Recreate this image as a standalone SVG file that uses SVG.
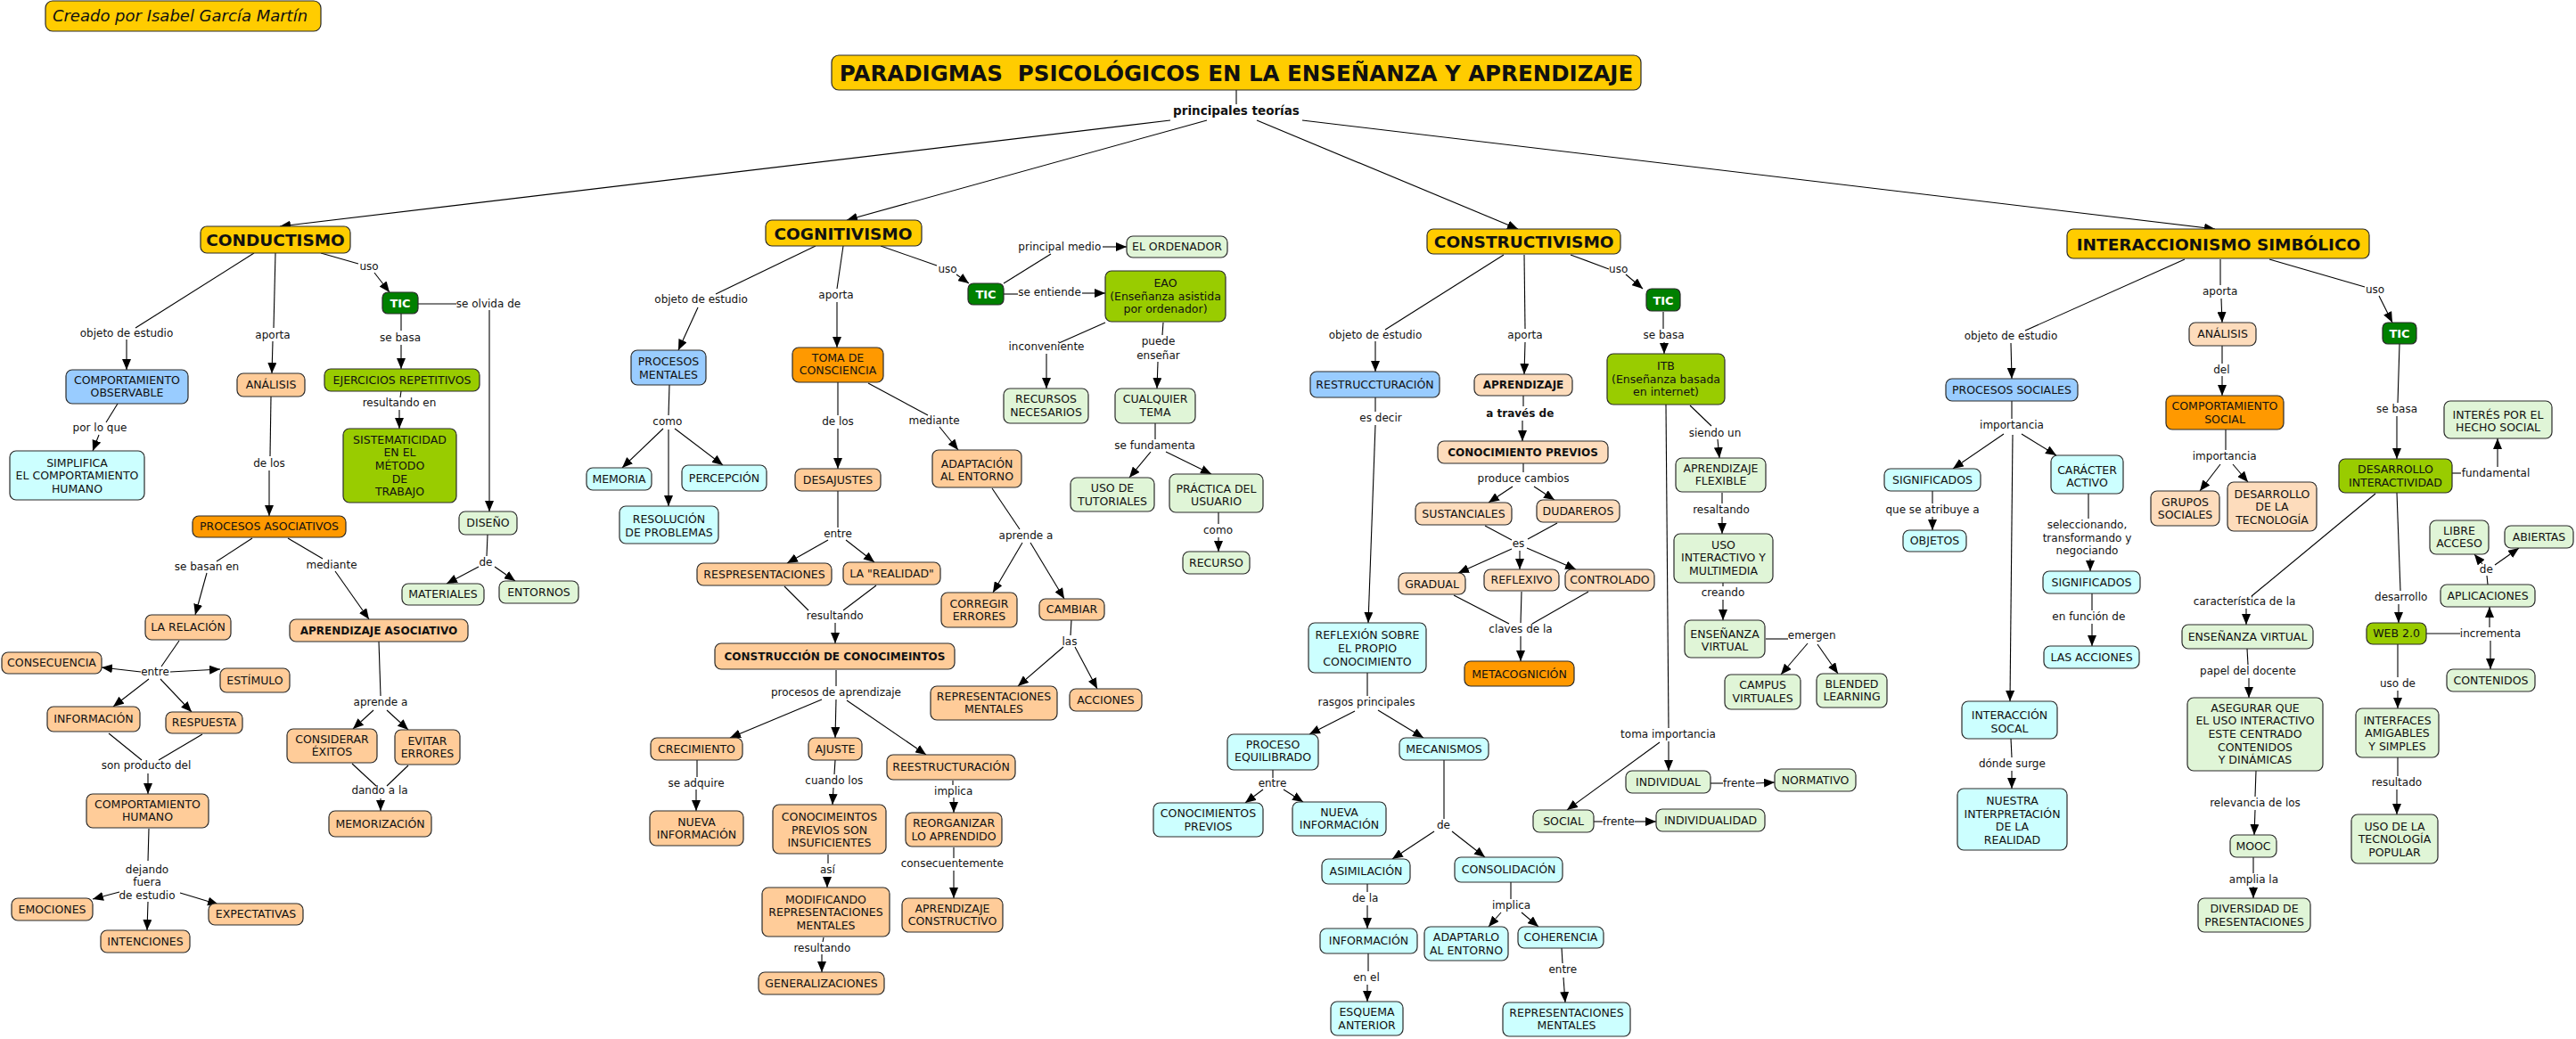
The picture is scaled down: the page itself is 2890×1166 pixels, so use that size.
<svg xmlns="http://www.w3.org/2000/svg" width="2890" height="1166" viewBox="0 0 2890 1166">
<defs>
<marker id="ah" markerUnits="userSpaceOnUse" markerWidth="12" markerHeight="10" refX="12" refY="5" orient="auto"><path d="M0,0 L12,5 L0,10 Z" fill="#000"/></marker>
<style>
text{font-family:"DejaVu Sans",Verdana,"Liberation Sans",sans-serif;fill:#111}
.b{stroke:#2a2a2a;stroke-width:1.2}
.gold{fill:#FFCC00}.tic{fill:#008000}.yg{fill:#99CC00}.lb{fill:#99CCFF}.cy{fill:#CCFFFF}
.pe{fill:#FFCC99}.pl{fill:#FDDCBC}.or{fill:#FF9900}.lg{fill:#E0F5D7}
.t{font-size:12.5px;text-anchor:middle}
.tb{font-size:12px;font-weight:bold;text-anchor:middle}
.h{font-size:18.5px;font-weight:bold;text-anchor:middle}
.ti{font-size:24.5px;font-weight:bold;text-anchor:middle}
.tt{font-size:13px;font-weight:bold;text-anchor:middle;fill:#fff}
.l{font-size:12px;text-anchor:middle}
.lbd{font-size:12px;font-weight:bold;text-anchor:middle}
#connectors line{stroke:#000;stroke-width:1.1;fill:none}
#connectors line.a{marker-end:url(#ah)}
</style>
</defs>
<rect width="2890" height="1166" fill="#fff"/>

<g id="connectors">
<line x1="1387" y1="101" x2="1387" y2="117"/>
<line class="a" x1="1313" y1="135" x2="314" y2="254"/>
<line class="a" x1="1354" y1="135" x2="950" y2="247"/>
<line class="a" x1="1410" y1="135" x2="1703" y2="257"/>
<line class="a" x1="1461" y1="135" x2="2485" y2="257"/>
<line x1="285" y1="284" x2="152" y2="368"/>
<line class="a" x1="142" y1="381" x2="142" y2="415"/>
<line x1="309" y1="284" x2="307" y2="368"/>
<line class="a" x1="306" y1="383" x2="305" y2="419"/>
<line x1="360" y1="284" x2="402" y2="296"/>
<line class="a" x1="420" y1="306" x2="437" y2="328"/>
<line x1="469" y1="341" x2="512" y2="341"/>
<line class="a" x1="549" y1="348" x2="549" y2="574"/>
<line x1="450" y1="352" x2="450" y2="371"/>
<line class="a" x1="450" y1="387" x2="450" y2="414"/>
<line x1="132" y1="453" x2="119" y2="474"/>
<line class="a" x1="111" y1="488" x2="104" y2="506"/>
<line x1="304" y1="445" x2="303" y2="512"/>
<line class="a" x1="302" y1="528" x2="302" y2="579"/>
<line x1="450" y1="439" x2="449" y2="446"/>
<line class="a" x1="448" y1="460" x2="448" y2="481"/>
<line x1="547" y1="600" x2="546" y2="624"/>
<line class="a" x1="537" y1="636" x2="501" y2="655"/>
<line class="a" x1="555" y1="636" x2="578" y2="652"/>
<line x1="283" y1="604" x2="243" y2="630"/>
<line class="a" x1="232" y1="643" x2="219" y2="690"/>
<line x1="323" y1="604" x2="362" y2="627"/>
<line class="a" x1="376" y1="641" x2="414" y2="695"/>
<line x1="201" y1="719" x2="181" y2="748"/>
<line class="a" x1="158" y1="754" x2="114" y2="749"/>
<line class="a" x1="191" y1="754" x2="247" y2="751"/>
<line class="a" x1="167" y1="762" x2="127" y2="793"/>
<line class="a" x1="180" y1="762" x2="215" y2="799"/>
<line x1="122" y1="823" x2="159" y2="853"/>
<line x1="227" y1="824" x2="178" y2="853"/>
<line class="a" x1="166" y1="868" x2="166" y2="891"/>
<line x1="167" y1="930" x2="166" y2="966"/>
<line class="a" x1="134" y1="1001" x2="104" y2="1009"/>
<line class="a" x1="166" y1="1012" x2="165" y2="1044"/>
<line class="a" x1="202" y1="1002" x2="245" y2="1015"/>
<line x1="425" y1="720" x2="427" y2="781"/>
<line class="a" x1="419" y1="797" x2="396" y2="818"/>
<line class="a" x1="434" y1="797" x2="458" y2="819"/>
<line x1="395" y1="857" x2="422" y2="882"/>
<line x1="458" y1="859" x2="434" y2="882"/>
<line class="a" x1="427" y1="896" x2="427" y2="910"/>
<line x1="915" y1="276" x2="803" y2="330"/>
<line class="a" x1="783" y1="345" x2="761" y2="393"/>
<line x1="946" y1="276" x2="939" y2="324"/>
<line class="a" x1="939" y1="339" x2="939" y2="390"/>
<line x1="988" y1="276" x2="1051" y2="298"/>
<line class="a" x1="1073" y1="308" x2="1087" y2="318"/>
<line x1="1126" y1="318" x2="1179" y2="285"/>
<line class="a" x1="1237" y1="277" x2="1264" y2="277"/>
<line x1="1126" y1="330" x2="1142" y2="330"/>
<line class="a" x1="1214" y1="329" x2="1240" y2="329"/>
<line x1="1240" y1="362" x2="1188" y2="385"/>
<line class="a" x1="1174" y1="397" x2="1174" y2="436"/>
<line x1="1305" y1="362" x2="1304" y2="376"/>
<line class="a" x1="1299" y1="406" x2="1298" y2="436"/>
<line x1="1296" y1="475" x2="1296" y2="493"/>
<line class="a" x1="1291" y1="507" x2="1267" y2="536"/>
<line class="a" x1="1308" y1="507" x2="1359" y2="532"/>
<line x1="1367" y1="575" x2="1367" y2="588"/>
<line class="a" x1="1367" y1="603" x2="1367" y2="619"/>
<line x1="751" y1="432" x2="750" y2="466"/>
<line class="a" x1="744" y1="481" x2="698" y2="525"/>
<line class="a" x1="757" y1="481" x2="811" y2="522"/>
<line class="a" x1="750" y1="482" x2="750" y2="568"/>
<line x1="940" y1="429" x2="940" y2="466"/>
<line class="a" x1="940" y1="481" x2="940" y2="526"/>
<line x1="974" y1="430" x2="1041" y2="466"/>
<line class="a" x1="1054" y1="479" x2="1075" y2="505"/>
<line x1="940" y1="551" x2="940" y2="592"/>
<line class="a" x1="929" y1="606" x2="883" y2="632"/>
<line class="a" x1="949" y1="606" x2="981" y2="631"/>
<line x1="880" y1="658" x2="907" y2="685"/>
<line x1="983" y1="657" x2="946" y2="685"/>
<line class="a" x1="937" y1="699" x2="937" y2="722"/>
<line x1="1113" y1="548" x2="1144" y2="594"/>
<line class="a" x1="1147" y1="609" x2="1114" y2="665"/>
<line class="a" x1="1156" y1="609" x2="1194" y2="672"/>
<line x1="1202" y1="696" x2="1201" y2="713"/>
<line class="a" x1="1193" y1="726" x2="1142" y2="770"/>
<line class="a" x1="1206" y1="726" x2="1231" y2="773"/>
<line x1="938" y1="752" x2="938" y2="770"/>
<line class="a" x1="922" y1="785" x2="819" y2="828"/>
<line class="a" x1="938" y1="785" x2="937" y2="828"/>
<line class="a" x1="950" y1="786" x2="1039" y2="847"/>
<line x1="782" y1="853" x2="782" y2="872"/>
<line class="a" x1="781" y1="886" x2="781" y2="910"/>
<line x1="937" y1="853" x2="936" y2="869"/>
<line class="a" x1="935" y1="884" x2="934" y2="903"/>
<line x1="929" y1="959" x2="929" y2="969"/>
<line class="a" x1="928" y1="984" x2="928" y2="996"/>
<line x1="924" y1="1052" x2="923" y2="1057"/>
<line class="a" x1="922" y1="1071" x2="922" y2="1091"/>
<line x1="1069" y1="876" x2="1069" y2="881"/>
<line class="a" x1="1070" y1="895" x2="1070" y2="912"/>
<line x1="1070" y1="951" x2="1070" y2="963"/>
<line class="a" x1="1070" y1="977" x2="1070" y2="1008"/>
<line x1="1687" y1="286" x2="1554" y2="370"/>
<line class="a" x1="1543" y1="383" x2="1543" y2="417"/>
<line x1="1710" y1="286" x2="1711" y2="369"/>
<line class="a" x1="1711" y1="384" x2="1710" y2="420"/>
<line x1="1762" y1="286" x2="1805" y2="302"/>
<line class="a" x1="1824" y1="308" x2="1843" y2="324"/>
<line x1="1866" y1="350" x2="1866" y2="369"/>
<line class="a" x1="1867" y1="384" x2="1867" y2="397"/>
<line x1="1543" y1="446" x2="1543" y2="462"/>
<line class="a" x1="1543" y1="477" x2="1535" y2="699"/>
<line x1="1709" y1="444" x2="1709" y2="456"/>
<line class="a" x1="1708" y1="472" x2="1708" y2="495"/>
<line x1="1709" y1="520" x2="1709" y2="530"/>
<line class="a" x1="1697" y1="546" x2="1670" y2="564"/>
<line class="a" x1="1721" y1="546" x2="1744" y2="561"/>
<line x1="1666" y1="590" x2="1696" y2="606"/>
<line x1="1747" y1="587" x2="1714" y2="605"/>
<line class="a" x1="1696" y1="616" x2="1636" y2="643"/>
<line class="a" x1="1705" y1="618" x2="1705" y2="639"/>
<line class="a" x1="1713" y1="615" x2="1768" y2="639"/>
<line x1="1631" y1="668" x2="1693" y2="700"/>
<line x1="1707" y1="664" x2="1706" y2="699"/>
<line x1="1782" y1="664" x2="1719" y2="700"/>
<line class="a" x1="1706" y1="714" x2="1706" y2="742"/>
<line x1="1896" y1="455" x2="1920" y2="478"/>
<line class="a" x1="1927" y1="493" x2="1929" y2="514"/>
<line x1="1932" y1="553" x2="1932" y2="565"/>
<line class="a" x1="1932" y1="580" x2="1932" y2="599"/>
<line x1="1933" y1="654" x2="1933" y2="658"/>
<line class="a" x1="1933" y1="673" x2="1933" y2="696"/>
<line x1="1981" y1="717" x2="2006" y2="717"/>
<line class="a" x1="2028" y1="722" x2="1998" y2="757"/>
<line class="a" x1="2039" y1="723" x2="2062" y2="756"/>
<line x1="1869" y1="454" x2="1872" y2="817"/>
<line class="a" x1="1872" y1="832" x2="1872" y2="865"/>
<line class="a" x1="1862" y1="833" x2="1758" y2="909"/>
<line x1="1919" y1="879" x2="1933" y2="879"/>
<line class="a" x1="1970" y1="879" x2="1991" y2="878"/>
<line x1="1788" y1="922" x2="1798" y2="922"/>
<line class="a" x1="1834" y1="922" x2="1858" y2="922"/>
<line x1="1534" y1="755" x2="1534" y2="781"/>
<line class="a" x1="1520" y1="798" x2="1469" y2="824"/>
<line class="a" x1="1546" y1="797" x2="1597" y2="828"/>
<line x1="1428" y1="864" x2="1428" y2="873"/>
<line class="a" x1="1417" y1="886" x2="1397" y2="901"/>
<line class="a" x1="1440" y1="886" x2="1462" y2="900"/>
<line x1="1620" y1="853" x2="1620" y2="919"/>
<line class="a" x1="1609" y1="933" x2="1562" y2="964"/>
<line class="a" x1="1629" y1="933" x2="1666" y2="962"/>
<line x1="1534" y1="992" x2="1534" y2="1001"/>
<line class="a" x1="1534" y1="1016" x2="1534" y2="1042"/>
<line x1="1535" y1="1070" x2="1535" y2="1090"/>
<line class="a" x1="1534" y1="1105" x2="1534" y2="1124"/>
<line x1="1695" y1="990" x2="1695" y2="1009"/>
<line class="a" x1="1684" y1="1024" x2="1670" y2="1040"/>
<line class="a" x1="1707" y1="1024" x2="1726" y2="1040"/>
<line x1="1752" y1="1064" x2="1753" y2="1081"/>
<line class="a" x1="1754" y1="1097" x2="1756" y2="1125"/>
<line x1="2451" y1="291" x2="2272" y2="371"/>
<line class="a" x1="2256" y1="385" x2="2257" y2="425"/>
<line x1="2491" y1="291" x2="2491" y2="320"/>
<line class="a" x1="2492" y1="335" x2="2493" y2="362"/>
<line x1="2546" y1="291" x2="2653" y2="322"/>
<line class="a" x1="2669" y1="332" x2="2684" y2="362"/>
<line x1="2257" y1="450" x2="2257" y2="470"/>
<line class="a" x1="2248" y1="487" x2="2191" y2="526"/>
<line class="a" x1="2268" y1="487" x2="2307" y2="511"/>
<line class="a" x1="2258" y1="488" x2="2255" y2="787"/>
<line x1="2168" y1="551" x2="2168" y2="565"/>
<line class="a" x1="2168" y1="580" x2="2168" y2="595"/>
<line x1="2343" y1="554" x2="2343" y2="582"/>
<line class="a" x1="2345" y1="627" x2="2345" y2="641"/>
<line x1="2347" y1="666" x2="2347" y2="685"/>
<line class="a" x1="2347" y1="700" x2="2347" y2="725"/>
<line x1="2256" y1="829" x2="2257" y2="850"/>
<line class="a" x1="2257" y1="865" x2="2257" y2="885"/>
<line x1="2493" y1="388" x2="2493" y2="408"/>
<line class="a" x1="2493" y1="422" x2="2493" y2="444"/>
<line x1="2497" y1="482" x2="2497" y2="505"/>
<line class="a" x1="2491" y1="521" x2="2468" y2="551"/>
<line class="a" x1="2505" y1="521" x2="2522" y2="541"/>
<line x1="2692" y1="386" x2="2690" y2="452"/>
<line class="a" x1="2689" y1="467" x2="2689" y2="515"/>
<line x1="2751" y1="531" x2="2761" y2="531"/>
<line class="a" x1="2802" y1="524" x2="2802" y2="492"/>
<line x1="2665" y1="554" x2="2526" y2="669"/>
<line class="a" x1="2520" y1="683" x2="2520" y2="701"/>
<line x1="2689" y1="553" x2="2693" y2="663"/>
<line class="a" x1="2691" y1="678" x2="2691" y2="699"/>
<line x1="2722" y1="711" x2="2760" y2="711"/>
<line class="a" x1="2793" y1="704" x2="2793" y2="681"/>
<line class="a" x1="2794" y1="719" x2="2794" y2="751"/>
<line x1="2791" y1="656" x2="2790" y2="646"/>
<line class="a" x1="2785" y1="633" x2="2776" y2="622"/>
<line class="a" x1="2799" y1="634" x2="2826" y2="615"/>
<line x1="2690" y1="723" x2="2690" y2="760"/>
<line class="a" x1="2690" y1="775" x2="2690" y2="795"/>
<line x1="2521" y1="728" x2="2522" y2="746"/>
<line class="a" x1="2523" y1="761" x2="2523" y2="783"/>
<line x1="2531" y1="865" x2="2530" y2="894"/>
<line class="a" x1="2530" y1="909" x2="2529" y2="937"/>
<line x1="2528" y1="962" x2="2528" y2="980"/>
<line class="a" x1="2528" y1="995" x2="2528" y2="1008"/>
<line x1="2690" y1="850" x2="2690" y2="871"/>
<line class="a" x1="2689" y1="886" x2="2689" y2="914"/>
</g>

<g id="labels">
<text class="lbd" x="1387" y="129" style="font-size:13.5px">principales teorías</text>
<text class="l" x="142" y="378">objeto de estudio</text>
<text class="l" x="306" y="380">aporta</text>
<text class="l" x="414" y="303">uso</text>
<text class="l" x="548" y="345">se olvida de</text>
<text class="l" x="449" y="383">se basa</text>
<text class="l" x="112" y="484">por lo que</text>
<text class="l" x="302" y="524">de los</text>
<text class="l" x="448" y="456">resultando en</text>
<text class="l" x="545" y="635">de</text>
<text class="l" x="232" y="640">se basan en</text>
<text class="l" x="372" y="638">mediante</text>
<text class="l" x="174" y="758">entre</text>
<text class="l" x="164" y="863">son producto del</text>
<text class="l" x="165"><tspan x="165" y="980">dejando</tspan><tspan x="165" y="994.3">fuera</tspan><tspan x="165" y="1009">de estudio</tspan></text>
<text class="l" x="427" y="791.7">aprende a</text>
<text class="l" x="426" y="891">dando a la</text>
<text class="l" x="786.6" y="339.7">objeto de estudio</text>
<text class="l" x="938" y="335">aporta</text>
<text class="l" x="1063" y="306">uso</text>
<text class="l" x="1188.8" y="280.7">principal medio</text>
<text class="l" x="1177.6" y="332">se entiende</text>
<text class="l" x="1174" y="393">inconveniente</text>
<text class="l" x="1299.5"><tspan x="1299.5" y="387">puede</tspan><tspan x="1299.5" y="402.7">enseñar</tspan></text>
<text class="l" x="748.8" y="477">como</text>
<text class="l" x="940" y="477">de los</text>
<text class="l" x="1048" y="476">mediante</text>
<text class="l" x="940" y="603">entre</text>
<text class="l" x="936.7" y="694.7">resultando</text>
<text class="l" x="1151" y="604.7">aprende a</text>
<text class="l" x="1200" y="723.7">las</text>
<text class="l" x="938" y="781">procesos de aprendizaje</text>
<text class="l" x="1295.5" y="503.7">se fundamenta</text>
<text class="l" x="1366.5" y="599">como</text>
<text class="l" x="781" y="882.7">se adquire</text>
<text class="l" x="935.8" y="880">cuando los</text>
<text class="l" x="928.4" y="980">así</text>
<text class="l" x="922.4" y="1068">resultando</text>
<text class="l" x="1069.7" y="891.7">implica</text>
<text class="l" x="1068.3" y="973.3">consecuentemente</text>
<text class="l" x="1543" y="379.7">objeto de estudio</text>
<text class="l" x="1711" y="379.7">aporta</text>
<text class="l" x="1815.7" y="305.5">uso</text>
<text class="l" x="1866.5" y="379.7">se basa</text>
<text class="l" x="1549" y="473">es decir</text>
<text class="lbd" x="1705.3" y="468">a través de</text>
<text class="l" x="1709" y="541">produce cambios</text>
<text class="l" x="1703.5" y="614">es</text>
<text class="l" x="1706" y="710.3">claves de la</text>
<text class="l" x="1924" y="490.3">siendo un</text>
<text class="l" x="1931" y="576">resaltando</text>
<text class="l" x="1933" y="669">creando</text>
<text class="l" x="2032.7" y="717">emergen</text>
<text class="l" x="1533" y="792.3">rasgos principales</text>
<text class="l" x="1427.5" y="883.3">entre</text>
<text class="l" x="1619.5" y="930">de</text>
<text class="l" x="1531.7" y="1011.7">de la</text>
<text class="l" x="1533" y="1101">en el</text>
<text class="l" x="1695.6" y="1020">implica</text>
<text class="l" x="1753.3" y="1092.3">entre</text>
<text class="l" x="1871.5" y="827.7">toma importancia</text>
<text class="l" x="1951" y="882.7">frente</text>
<text class="l" x="1816" y="925.7">frente</text>
<text class="l" x="2256" y="380.7">objeto de estudio</text>
<text class="l" x="2490.6" y="331.3">aporta</text>
<text class="l" x="2664.6" y="329">uso</text>
<text class="l" x="2492.4" y="418.7">del</text>
<text class="l" x="2495.7" y="516">importancia</text>
<text class="l" x="2257" y="481.3">importancia</text>
<text class="l" x="2168" y="576">que se atribuye a</text>
<text class="l" x="2341.5"><tspan x="2341.5" y="593">seleccionando,</tspan><tspan x="2341.5" y="607.7">transformando y</tspan><tspan x="2341.5" y="622">negociando</tspan></text>
<text class="l" x="2343.3" y="696.3">en función de</text>
<text class="l" x="2257.4" y="860.7">dónde surge</text>
<text class="l" x="2689" y="463">se basa</text>
<text class="l" x="2800" y="535.3">fundamental</text>
<text class="l" x="2518" y="679.3">característica de la</text>
<text class="l" x="2522" y="757">papel del docente</text>
<text class="l" x="2530" y="905">relevancia de los</text>
<text class="l" x="2528.4" y="991">amplia la</text>
<text class="l" x="2693.7" y="673.7">desarrollo</text>
<text class="l" x="2794" y="715.3">incrementa</text>
<text class="l" x="2789.3" y="642.7">de</text>
<text class="l" x="2690" y="771.3">uso de</text>
<text class="l" x="2689" y="881.7">resultado</text>
</g>

<g id="n-creado"><rect class="b gold" x="51" y="1" width="309" height="34" rx="8"/><text x="202" y="24" style="font-size:18px;font-style:italic;text-anchor:middle">Creado por Isabel García Martín</text></g>
<g id="n-titulo"><rect class="b gold" x="933" y="62" width="908" height="39" rx="8"/><text class="ti" x="1387" y="91" xml:space="preserve">PARADIGMAS  PSICOLÓGICOS EN LA ENSEÑANZA Y APRENDIZAJE</text></g>

<g id="n-conductismo"><rect class="b gold" x="225" y="254" width="168" height="30" rx="7"/><text class="h" x="309" y="276">CONDUCTISMO</text></g>
<g id="n-cognitivismo"><rect class="b gold" x="859" y="247" width="175" height="29" rx="7"/><text class="h" x="946" y="268.5">COGNITIVISMO</text></g>
<g id="n-constructivismo"><rect class="b gold" x="1601" y="257" width="217" height="28" rx="7"/><text class="h" x="1709.7" y="277.5">CONSTRUCTIVISMO</text></g>
<g id="n-interaccionismo"><rect class="b gold" x="2319" y="257" width="339" height="33" rx="7"/><text class="h" x="2489" y="281">INTERACCIONISMO SIMBÓLICO</text></g>

<g id="n-tic1"><rect class="b tic" x="429" y="328" width="40" height="24" rx="6"/><text class="tt" x="449" y="345">TIC</text></g>
<g id="n-tic2"><rect class="b tic" x="1086" y="318" width="40" height="24" rx="6"/><text class="tt" x="1106" y="335">TIC</text></g>
<g id="n-tic3"><rect class="b tic" x="1847" y="324" width="38" height="25" rx="6"/><text class="tt" x="1866" y="341.5">TIC</text></g>
<g id="n-tic4"><rect class="b tic" x="2673" y="362" width="38" height="24" rx="6"/><text class="tt" x="2692" y="378.5">TIC</text></g>

<g id="n-comp-observable"><rect class="b lb" x="74" y="415" width="137" height="38" rx="7"/><text class="t"><tspan x="142.5" y="430.6">COMPORTAMIENTO</tspan><tspan x="142.5" y="445.3">OBSERVABLE</tspan></text></g>
<g id="n-simplifica"><rect class="b cy" x="11" y="506" width="151" height="55" rx="7"/><text class="t"><tspan x="86.5" y="524">SIMPLIFICA</tspan><tspan x="86.5" y="538.3">EL COMPORTAMIENTO</tspan><tspan x="86.5" y="553">HUMANO</tspan></text></g>
<g id="n-analisis1"><rect class="b pe" x="266" y="419" width="76" height="26" rx="7"/><text class="t" x="304" y="436.3">ANÁLISIS</text></g>
<g id="n-ejercicios"><rect class="b yg" x="364" y="414" width="174" height="25" rx="7"/><text class="t" x="451" y="430.5">EJERCICIOS REPETITIVOS</text></g>
<g id="n-sistematicidad"><rect class="b yg" x="385" y="481" width="127" height="83" rx="7"/><text class="t"><tspan x="448.5" y="498">SISTEMATICIDAD</tspan><tspan x="448.5" y="512.3">EN EL</tspan><tspan x="448.5" y="527">MÉTODO</tspan><tspan x="448.5" y="541.6">DE</tspan><tspan x="448.5" y="556">TRABAJO</tspan></text></g>
<g id="n-diseno"><rect class="b lg" x="515" y="574" width="65" height="26" rx="7"/><text class="t" x="547.5" y="591.3">DISEÑO</text></g>
<g id="n-materiales"><rect class="b lg" x="451" y="655" width="92" height="24" rx="7"/><text class="t" x="497" y="671.3">MATERIALES</text></g>
<g id="n-entornos"><rect class="b lg" x="560" y="652" width="89" height="25" rx="7"/><text class="t" x="604.5" y="669">ENTORNOS</text></g>
<g id="n-procesos-asoc"><rect class="b or" x="216" y="579" width="172" height="24" rx="7"/><text class="t" x="302" y="595.3">PROCESOS ASOCIATIVOS</text></g>
<g id="n-la-relacion"><rect class="b pe" x="163" y="690" width="96" height="28" rx="7"/><text class="t" x="211" y="708.3">LA RELACIÓN</text></g>
<g id="n-aprendizaje-asoc"><rect class="b pe" x="325" y="695" width="200" height="25" rx="7"/><text class="tb" x="425" y="711.5">APRENDIZAJE ASOCIATIVO</text></g>
<g id="n-consecuencia"><rect class="b pe" x="2" y="732" width="112" height="24" rx="7"/><text class="t" x="58" y="748.3">CONSECUENCIA</text></g>
<g id="n-estimulo"><rect class="b pe" x="247" y="750" width="78" height="27" rx="7"/><text class="t" x="286" y="767.8">ESTÍMULO</text></g>
<g id="n-informacion1"><rect class="b pe" x="53" y="793" width="104" height="28" rx="7"/><text class="t" x="105" y="811.3">INFORMACIÓN</text></g>
<g id="n-respuesta"><rect class="b pe" x="186" y="799" width="86" height="24" rx="7"/><text class="t" x="229" y="815.3">RESPUESTA</text></g>
<g id="n-comp-humano"><rect class="b pe" x="97" y="891" width="137" height="38" rx="7"/><text class="t"><tspan x="165.5" y="907">COMPORTAMIENTO</tspan><tspan x="165.5" y="921.3">HUMANO</tspan></text></g>
<g id="n-emociones"><rect class="b pe" x="13" y="1008" width="91" height="25" rx="7"/><text class="t" x="58.5" y="1024.8">EMOCIONES</text></g>
<g id="n-intenciones"><rect class="b pe" x="113" y="1044" width="100" height="25" rx="7"/><text class="t" x="163" y="1060.8">INTENCIONES</text></g>
<g id="n-expectativas"><rect class="b pe" x="234" y="1014" width="106" height="24" rx="7"/><text class="t" x="287" y="1030.3">EXPECTATIVAS</text></g>
<g id="n-considerar"><rect class="b pe" x="322" y="818" width="101" height="38" rx="7"/><text class="t"><tspan x="372.5" y="833.6">CONSIDERAR</tspan><tspan x="372.5" y="848">ÉXITOS</tspan></text></g>
<g id="n-evitar"><rect class="b pe" x="443" y="819" width="73" height="39" rx="7"/><text class="t"><tspan x="479.5" y="836">EVITAR</tspan><tspan x="479.5" y="850.3">ERRORES</tspan></text></g>
<g id="n-memorizacion"><rect class="b pe" x="369" y="910" width="115" height="29" rx="7"/><text class="t" x="426.5" y="929">MEMORIZACIÓN</text></g>

<g id="n-procesos-mentales"><rect class="b lb" x="708" y="393" width="84" height="39" rx="7"/><text class="t"><tspan x="750" y="409.6">PROCESOS</tspan><tspan x="750" y="424.6">MENTALES</tspan></text></g>
<g id="n-memoria"><rect class="b cy" x="658" y="525" width="73" height="25" rx="7"/><text class="t" x="694.5" y="541.8">MEMORIA</text></g>
<g id="n-percepcion"><rect class="b cy" x="765" y="522" width="95" height="29" rx="7"/><text class="t" x="812.5" y="541">PERCEPCIÓN</text></g>
<g id="n-resolucion"><rect class="b cy" x="695" y="568" width="111" height="42" rx="7"/><text class="t"><tspan x="750.5" y="587.3">RESOLUCIÓN</tspan><tspan x="750.5" y="602.3">DE PROBLEMAS</tspan></text></g>
<g id="n-toma"><rect class="b or" x="889" y="390" width="102" height="39" rx="7"/><text class="t"><tspan x="940" y="405.6">TOMA DE</tspan><tspan x="940" y="420.3">CONSCIENCIA</tspan></text></g>
<g id="n-desajustes"><rect class="b pe" x="892" y="526" width="96" height="25" rx="7"/><text class="t" x="940" y="542.5">DESAJUSTES</text></g>
<g id="n-adaptacion"><rect class="b pe" x="1046" y="505" width="100" height="42" rx="7"/><text class="t"><tspan x="1096" y="525">ADAPTACIÓN</tspan><tspan x="1096" y="539.3">AL ENTORNO</tspan></text></g>
<g id="n-respresentaciones"><rect class="b pe" x="782" y="632" width="151" height="25" rx="7"/><text class="t" x="857.5" y="649">RESPRESENTACIONES</text></g>
<g id="n-realidad"><rect class="b pe" x="946" y="631" width="109" height="25" rx="7"/><text class="t" x="1000.5" y="648">LA "REALIDAD"</text></g>
<g id="n-construccion"><rect class="b pe" x="802" y="722" width="269" height="29" rx="7"/><text class="tb" x="936.5" y="741">CONSTRUCCIÓN DE CONOCIMEINTOS</text></g>
<g id="n-corregir"><rect class="b pe" x="1056" y="665" width="85" height="39" rx="7"/><text class="t"><tspan x="1098.5" y="681.6">CORREGIR</tspan><tspan x="1098.5" y="696.3">ERRORES</tspan></text></g>
<g id="n-cambiar"><rect class="b pe" x="1166" y="672" width="73" height="24" rx="7"/><text class="t" x="1202.5" y="688.3">CAMBIAR</text></g>
<g id="n-repr-mentales1"><rect class="b pe" x="1044" y="770" width="142" height="38" rx="7"/><text class="t"><tspan x="1115" y="786">REPRESENTACIONES</tspan><tspan x="1115" y="800.3">MENTALES</tspan></text></g>
<g id="n-acciones"><rect class="b pe" x="1200" y="773" width="81" height="25" rx="7"/><text class="t" x="1240.5" y="789.8">ACCIONES</text></g>
<g id="n-crecimiento"><rect class="b pe" x="730" y="828" width="103" height="25" rx="7"/><text class="t" x="781.5" y="845">CRECIMIENTO</text></g>
<g id="n-ajuste"><rect class="b pe" x="907" y="828" width="60" height="25" rx="7"/><text class="t" x="937" y="845">AJUSTE</text></g>
<g id="n-reestructuracion"><rect class="b pe" x="995" y="847" width="144" height="28" rx="7"/><text class="t" x="1067" y="865.3">REESTRUCTURACIÓN</text></g>
<g id="n-nueva-info1"><rect class="b pe" x="729" y="910" width="105" height="39" rx="7"/><text class="t"><tspan x="781.5" y="927">NUEVA</tspan><tspan x="781.5" y="941.3">INFORMACIÓN</tspan></text></g>
<g id="n-conocimeintos"><rect class="b pe" x="867" y="903" width="127" height="55" rx="7"/><text class="t"><tspan x="930.5" y="921">CONOCIMEINTOS</tspan><tspan x="930.5" y="935.6">PREVIOS SON</tspan><tspan x="930.5" y="950.3">INSUFICIENTES</tspan></text></g>
<g id="n-modificando"><rect class="b pe" x="855" y="996" width="143" height="55" rx="7"/><text class="t"><tspan x="926.5" y="1013.6">MODIFICANDO</tspan><tspan x="926.5" y="1028.3">REPRESENTACIONES</tspan><tspan x="926.5" y="1043">MENTALES</tspan></text></g>
<g id="n-generalizaciones"><rect class="b pe" x="851" y="1091" width="141" height="25" rx="7"/><text class="t" x="921.5" y="1108">GENERALIZACIONES</text></g>
<g id="n-reorganizar"><rect class="b pe" x="1016" y="912" width="108" height="38" rx="7"/><text class="t"><tspan x="1070" y="928">REORGANIZAR</tspan><tspan x="1070" y="942.6">LO APRENDIDO</tspan></text></g>
<g id="n-aprendizaje-constructivo"><rect class="b pe" x="1012" y="1008" width="113" height="38" rx="7"/><text class="t"><tspan x="1068.5" y="1024">APRENDIZAJE</tspan><tspan x="1068.5" y="1038.3">CONSTRUCTIVO</tspan></text></g>
<g id="n-ordenador"><rect class="b lg" x="1264" y="265" width="113" height="24" rx="7"/><text class="t" x="1320.5" y="281.3">EL ORDENADOR</text></g>
<g id="n-eao"><rect class="b yg" x="1240" y="304" width="135" height="57" rx="7"/><text class="t"><tspan x="1307.5" y="322">EAO</tspan><tspan x="1307.5" y="336.6">(Enseñanza asistida</tspan><tspan x="1307.5" y="351">por ordenador)</tspan></text></g>
<g id="n-recursos"><rect class="b lg" x="1126" y="436" width="95" height="39" rx="7"/><text class="t"><tspan x="1173.5" y="452.3">RECURSOS</tspan><tspan x="1173.5" y="466.6">NECESARIOS</tspan></text></g>
<g id="n-cualquier"><rect class="b lg" x="1251" y="436" width="90" height="39" rx="7"/><text class="t"><tspan x="1296" y="452.3">CUALQUIER</tspan><tspan x="1296" y="466.6">TEMA</tspan></text></g>
<g id="n-tutoriales"><rect class="b lg" x="1201" y="536" width="94" height="38" rx="7"/><text class="t"><tspan x="1248" y="552.3">USO DE</tspan><tspan x="1248" y="566.6">TUTORIALES</tspan></text></g>
<g id="n-practica"><rect class="b lg" x="1312" y="532" width="105" height="43" rx="7"/><text class="t"><tspan x="1364.5" y="553">PRÁCTICA DEL</tspan><tspan x="1364.5" y="567.3">USUARIO</tspan></text></g>
<g id="n-recurso"><rect class="b lg" x="1327" y="619" width="75" height="25" rx="7"/><text class="t" x="1364.5" y="635.8">RECURSO</text></g>

<g id="n-restrucc"><rect class="b lb" x="1470" y="417" width="145" height="29" rx="7"/><text class="t" x="1542.5" y="436">RESTRUCCTURACIÓN</text></g>
<g id="n-aprendizaje"><rect class="b pl" x="1654" y="420" width="110" height="24" rx="7"/><text class="tb" x="1709" y="436.3">APRENDIZAJE</text></g>
<g id="n-itb"><rect class="b yg" x="1803" y="397" width="132" height="57" rx="7"/><text class="t"><tspan x="1869" y="415">ITB</tspan><tspan x="1869" y="429.6">(Enseñanza basada</tspan><tspan x="1869" y="444">en internet)</tspan></text></g>
<g id="n-conoc-previos1"><rect class="b pl" x="1613" y="495" width="191" height="25" rx="7"/><text class="tb" x="1708.5" y="511.5">CONOCIMIENTO PREVIOS</text></g>
<g id="n-sustanciales"><rect class="b pl" x="1588" y="564" width="108" height="25" rx="7"/><text class="t" x="1642" y="580.5">SUSTANCIALES</text></g>
<g id="n-dudareros"><rect class="b pl" x="1724" y="561" width="93" height="25" rx="7"/><text class="t" x="1770.5" y="578">DUDAREROS</text></g>
<g id="n-gradual"><rect class="b pl" x="1569" y="643" width="75" height="24" rx="7"/><text class="t" x="1606.5" y="659.5">GRADUAL</text></g>
<g id="n-reflexivo"><rect class="b pl" x="1665" y="639" width="84" height="24" rx="7"/><text class="t" x="1707" y="655.3">REFLEXIVO</text></g>
<g id="n-controlado"><rect class="b pl" x="1756" y="639" width="100" height="24" rx="7"/><text class="t" x="1806" y="655.3">CONTROLADO</text></g>
<g id="n-metacognicion"><rect class="b or" x="1643" y="742" width="123" height="28" rx="7"/><text class="t" x="1704.5" y="760.5">METACOGNICIÓN</text></g>
<g id="n-reflexion"><rect class="b cy" x="1468" y="699" width="132" height="56" rx="7"/><text class="t"><tspan x="1534" y="717.3">REFLEXIÓN SOBRE</tspan><tspan x="1534" y="732.3">EL PROPIO</tspan><tspan x="1534" y="746.6">CONOCIMIENTO</tspan></text></g>
<g id="n-proceso-eq"><rect class="b cy" x="1377" y="824" width="102" height="40" rx="7"/><text class="t"><tspan x="1428" y="840.3">PROCESO</tspan><tspan x="1428" y="854.3">EQUILIBRADO</tspan></text></g>
<g id="n-mecanismos"><rect class="b cy" x="1570" y="828" width="100" height="25" rx="7"/><text class="t" x="1620" y="845">MECANISMOS</text></g>
<g id="n-conoc-previos2"><rect class="b cy" x="1294" y="901" width="123" height="38" rx="7"/><text class="t"><tspan x="1355.5" y="917">CONOCIMIENTOS</tspan><tspan x="1355.5" y="931.6">PREVIOS</tspan></text></g>
<g id="n-nueva-info2"><rect class="b cy" x="1450" y="900" width="105" height="38" rx="7"/><text class="t"><tspan x="1502.5" y="916">NUEVA</tspan><tspan x="1502.5" y="930.3">INFORMACIÓN</tspan></text></g>
<g id="n-asimilacion"><rect class="b cy" x="1483" y="964" width="99" height="28" rx="7"/><text class="t" x="1532.5" y="982">ASIMILACIÓN</text></g>
<g id="n-consolidacion"><rect class="b cy" x="1632" y="962" width="121" height="28" rx="7"/><text class="t" x="1692.5" y="980">CONSOLIDACIÓN</text></g>
<g id="n-informacion2"><rect class="b cy" x="1481" y="1042" width="109" height="28" rx="7"/><text class="t" x="1535.5" y="1060.3">INFORMACIÓN</text></g>
<g id="n-esquema"><rect class="b cy" x="1493" y="1124" width="81" height="38" rx="7"/><text class="t"><tspan x="1533.5" y="1140.3">ESQUEMA</tspan><tspan x="1533.5" y="1154.6">ANTERIOR</tspan></text></g>
<g id="n-adaptarlo"><rect class="b cy" x="1598" y="1040" width="94" height="38" rx="7"/><text class="t"><tspan x="1645" y="1056.3">ADAPTARLO</tspan><tspan x="1645" y="1070.6">AL ENTORNO</tspan></text></g>
<g id="n-coherencia"><rect class="b cy" x="1703" y="1040" width="96" height="24" rx="7"/><text class="t" x="1751" y="1056.3">COHERENCIA</text></g>
<g id="n-repr-mentales2"><rect class="b cy" x="1686" y="1125" width="143" height="38" rx="7"/><text class="t"><tspan x="1757.5" y="1141">REPRESENTACIONES</tspan><tspan x="1757.5" y="1155.3">MENTALES</tspan></text></g>
<g id="n-aprendizaje-flexible"><rect class="b lg" x="1880" y="514" width="101" height="38" rx="7"/><text class="t"><tspan x="1930.5" y="529.6">APRENDIZAJE</tspan><tspan x="1930.5" y="544.3">FLEXIBLE</tspan></text></g>
<g id="n-uso-interactivo"><rect class="b lg" x="1878" y="599" width="111" height="55" rx="7"/><text class="t"><tspan x="1933.5" y="615.6">USO</tspan><tspan x="1933.5" y="630.3">INTERACTIVO Y</tspan><tspan x="1933.5" y="645">MULTIMEDIA</tspan></text></g>
<g id="n-ens-virtual1"><rect class="b lg" x="1890" y="696" width="90" height="42" rx="7"/><text class="t"><tspan x="1935" y="715.6">ENSEÑANZA</tspan><tspan x="1935" y="730">VIRTUAL</tspan></text></g>
<g id="n-campus"><rect class="b lg" x="1935" y="757" width="85" height="39" rx="7"/><text class="t"><tspan x="1977.5" y="773.3">CAMPUS</tspan><tspan x="1977.5" y="787.6">VIRTUALES</tspan></text></g>
<g id="n-blended"><rect class="b lg" x="2038" y="756" width="79" height="38" rx="7"/><text class="t"><tspan x="2077.5" y="771.6">BLENDED</tspan><tspan x="2077.5" y="786">LEARNING</tspan></text></g>
<g id="n-individual"><rect class="b lg" x="1824" y="865" width="95" height="25" rx="7"/><text class="t" x="1871.5" y="882">INDIVIDUAL</text></g>
<g id="n-normativo"><rect class="b lg" x="1991" y="863" width="91" height="25" rx="7"/><text class="t" x="2036.5" y="880">NORMATIVO</text></g>
<g id="n-social"><rect class="b lg" x="1720" y="909" width="68" height="25" rx="7"/><text class="t" x="1754" y="926">SOCIAL</text></g>
<g id="n-individualidad"><rect class="b lg" x="1858" y="908" width="122" height="25" rx="7"/><text class="t" x="1919" y="924.8">INDIVIDUALIDAD</text></g>

<g id="n-procesos-sociales"><rect class="b lb" x="2183" y="425" width="148" height="25" rx="7"/><text class="t" x="2257" y="441.5">PROCESOS SOCIALES</text></g>
<g id="n-analisis2"><rect class="b pl" x="2456" y="362" width="75" height="26" rx="7"/><text class="t" x="2493.5" y="379.3">ANÁLISIS</text></g>
<g id="n-comp-social"><rect class="b or" x="2430" y="444" width="132" height="38" rx="7"/><text class="t"><tspan x="2496" y="460">COMPORTAMIENTO</tspan><tspan x="2496" y="474.6">SOCIAL</tspan></text></g>
<g id="n-grupos"><rect class="b pl" x="2413" y="551" width="77" height="39" rx="7"/><text class="t"><tspan x="2451.5" y="568">GRUPOS</tspan><tspan x="2451.5" y="582.3">SOCIALES</tspan></text></g>
<g id="n-desarrollo-tec"><rect class="b pl" x="2499" y="541" width="100" height="55" rx="7"/><text class="t"><tspan x="2549" y="558.6">DESARROLLO</tspan><tspan x="2549" y="573.3">DE LA</tspan><tspan x="2549" y="587.6">TECNOLOGÍA</tspan></text></g>
<g id="n-significados1"><rect class="b cy" x="2114" y="526" width="108" height="25" rx="7"/><text class="t" x="2168" y="542.8">SIGNIFICADOS</text></g>
<g id="n-objetos"><rect class="b cy" x="2135" y="595" width="71" height="24" rx="7"/><text class="t" x="2170.5" y="611.3">OBJETOS</text></g>
<g id="n-caracter"><rect class="b cy" x="2301" y="511" width="81" height="43" rx="7"/><text class="t"><tspan x="2341.5" y="531.6">CARÁCTER</tspan><tspan x="2341.5" y="546.3">ACTIVO</tspan></text></g>
<g id="n-significados2"><rect class="b cy" x="2292" y="641" width="109" height="25" rx="7"/><text class="t" x="2346.5" y="658">SIGNIFICADOS</text></g>
<g id="n-las-acciones"><rect class="b cy" x="2293" y="725" width="107" height="25" rx="7"/><text class="t" x="2346.5" y="742">LAS ACCIONES</text></g>
<g id="n-interaccion"><rect class="b cy" x="2201" y="787" width="107" height="42" rx="7"/><text class="t"><tspan x="2254.5" y="807">INTERACCIÓN</tspan><tspan x="2254.5" y="822">SOCAL</tspan></text></g>
<g id="n-nuestra"><rect class="b cy" x="2196" y="885" width="123" height="69" rx="7"/><text class="t"><tspan x="2257.5" y="903">NUESTRA</tspan><tspan x="2257.5" y="917.6">INTERPRETACIÓN</tspan><tspan x="2257.5" y="932">DE LA</tspan><tspan x="2257.5" y="946.6">REALIDAD</tspan></text></g>
<g id="n-desarrollo-inter"><rect class="b yg" x="2624" y="515" width="127" height="38" rx="7"/><text class="t"><tspan x="2687.5" y="530.6">DESARROLLO</tspan><tspan x="2687.5" y="545.6">INTERACTIVIDAD</tspan></text></g>
<g id="n-interes"><rect class="b lg" x="2742" y="450" width="121" height="42" rx="7"/><text class="t"><tspan x="2802.5" y="469.6">INTERÉS POR EL</tspan><tspan x="2802.5" y="484.3">HECHO SOCIAL</tspan></text></g>
<g id="n-ens-virtual2"><rect class="b lg" x="2448" y="701" width="147" height="27" rx="7"/><text class="t" x="2521.5" y="719">ENSEÑANZA VIRTUAL</text></g>
<g id="n-asegurar"><rect class="b lg" x="2454" y="783" width="152" height="82" rx="7"/><text class="t"><tspan x="2530" y="798.6">ASEGURAR QUE</tspan><tspan x="2530" y="813.3">EL USO INTERACTIVO</tspan><tspan x="2530" y="828">ESTE CENTRADO</tspan><tspan x="2530" y="842.6">CONTENIDOS</tspan><tspan x="2530" y="857.3">Y DINÁMICAS</tspan></text></g>
<g id="n-mooc"><rect class="b lg" x="2502" y="937" width="52" height="25" rx="7"/><text class="t" x="2528" y="953.8">MOOC</text></g>
<g id="n-diversidad"><rect class="b lg" x="2466" y="1008" width="126" height="38" rx="7"/><text class="t"><tspan x="2529" y="1024">DIVERSIDAD DE</tspan><tspan x="2529" y="1038.6">PRESENTACIONES</tspan></text></g>
<g id="n-web20"><rect class="b yg" x="2655" y="699" width="67" height="24" rx="7"/><text class="t" x="2688.5" y="715.3">WEB 2.0</text></g>
<g id="n-aplicaciones"><rect class="b lg" x="2738" y="656" width="106" height="25" rx="7"/><text class="t" x="2791" y="672.5">APLICACIONES</text></g>
<g id="n-contenidos"><rect class="b lg" x="2745" y="751" width="99" height="25" rx="7"/><text class="t" x="2794.5" y="768">CONTENIDOS</text></g>
<g id="n-libre"><rect class="b lg" x="2726" y="584" width="66" height="38" rx="7"/><text class="t"><tspan x="2759" y="600">LIBRE</tspan><tspan x="2759" y="614.3">ACCESO</tspan></text></g>
<g id="n-abiertas"><rect class="b lg" x="2810" y="590" width="77" height="25" rx="7"/><text class="t" x="2848.5" y="606.5">ABIERTAS</text></g>
<g id="n-interfaces"><rect class="b lg" x="2643" y="795" width="93" height="55" rx="7"/><text class="t"><tspan x="2689.5" y="812.6">INTERFACES</tspan><tspan x="2689.5" y="827.3">AMIGABLES</tspan><tspan x="2689.5" y="841.6">Y SIMPLES</tspan></text></g>
<g id="n-uso-tecnologia"><rect class="b lg" x="2638" y="914" width="97" height="55" rx="7"/><text class="t"><tspan x="2686.5" y="932">USO DE LA</tspan><tspan x="2686.5" y="946.3">TECNOLOGÍA</tspan><tspan x="2686.5" y="961">POPULAR</tspan></text></g>
</svg>
